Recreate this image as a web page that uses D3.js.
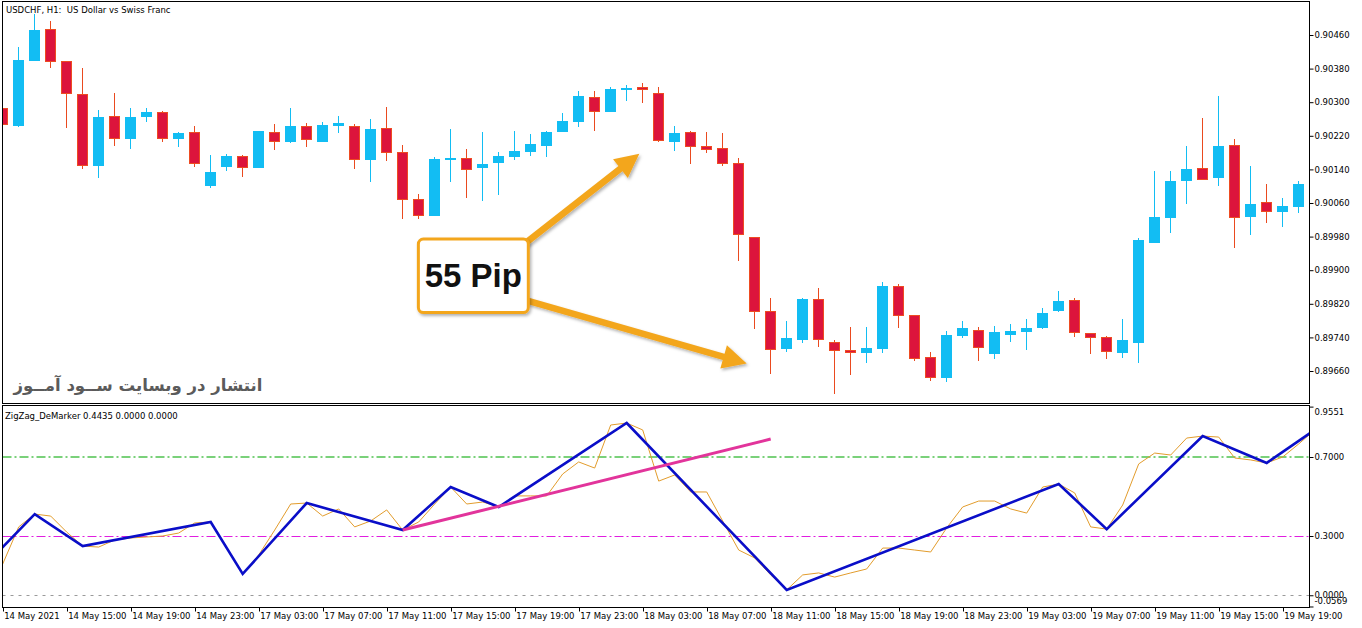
<!DOCTYPE html>
<html lang="en">
<head>
<meta charset="UTF-8">
<title>USDCHF H1 - ZigZag DeMarker</title>
<script src="https://d3js.org/d3.v7.min.js"></script>
<style>
  body { margin: 0; background: #fff; }
  svg text { font-family: "DejaVu Sans", Tahoma, sans-serif; font-size: 8.5px; fill: #000; }
</style>
</head>
<body>
<div id="chart"></div>
<script>

// hourly candles, 14 May 11:00 .. 19 May 20:00
const opens = [0.90285,0.90243,0.90399,0.90472,0.90396,0.90319,0.90149,0.90266,0.90213,0.90265,
  0.90276,0.90213,0.90227,0.90101,0.90146,0.90170,0.90144,0.90228,0.90205,0.90243,
  0.90205,0.90244,0.90243,0.90163,0.90237,0.90181,0.90069,0.90030,0.90162,0.90166,
  0.90143,0.90155,0.90170,0.90182,0.90196,0.90228,0.90254,0.90311,0.90277,0.90331,
  0.90335,0.90321,0.90206,0.90227,0.90194,0.90189,0.90155,0.89978,0.89801,0.89712,
  0.89735,0.89831,0.89728,0.89708,0.89703,0.89713,0.89862,0.89793,0.89693,0.89644,
  0.89743,0.89756,0.89700,0.89746,0.89754,0.89762,0.89804,0.89827,0.89750,0.89740,
  0.89703,0.89727,0.89964,0.90025,0.90113,0.90141,0.90120,0.90198,0.90026,0.90062,
  0.90039,0.90051];
const highs = [0.90293,0.90432,0.90510,0.90494,0.90396,0.90381,0.90281,0.90323,0.90287,0.90287,
  0.90279,0.90228,0.90243,0.90174,0.90177,0.90174,0.90231,0.90248,0.90287,0.90250,
  0.90254,0.90267,0.90248,0.90261,0.90289,0.90198,0.90081,0.90170,0.90236,0.90188,
  0.90230,0.90181,0.90232,0.90224,0.90232,0.90274,0.90327,0.90327,0.90337,0.90341,
  0.90346,0.90337,0.90244,0.90231,0.90230,0.90227,0.90166,0.89978,0.89835,0.89780,
  0.89835,0.89857,0.89735,0.89765,0.89765,0.89873,0.89867,0.89793,0.89706,0.89756,
  0.89779,0.89765,0.89767,0.89772,0.89784,0.89809,0.89851,0.89833,0.89750,0.89743,
  0.89784,0.89977,0.90137,0.90137,0.90196,0.90263,0.90315,0.90212,0.90148,0.90105,
  0.90073,0.90112];
const lows = [0.90243,0.90242,0.90398,0.90381,0.90239,0.90141,0.90120,0.90196,0.90189,0.90254,
  0.90205,0.90194,0.90146,0.90096,0.90136,0.90123,0.90144,0.90186,0.90204,0.90194,
  0.90205,0.90227,0.90141,0.90110,0.90160,0.90023,0.90023,0.90030,0.90111,0.90073,
  0.90065,0.90079,0.90162,0.90173,0.90170,0.90228,0.90242,0.90232,0.90277,0.90303,
  0.90299,0.90206,0.90185,0.90153,0.90178,0.90148,0.89922,0.89760,0.89652,0.89706,
  0.89726,0.89718,0.89605,0.89650,0.89680,0.89703,0.89763,0.89684,0.89636,0.89634,
  0.89739,0.89684,0.89689,0.89730,0.89710,0.89759,0.89800,0.89742,0.89700,0.89689,
  0.89692,0.89678,0.89964,0.89988,0.90058,0.90115,0.90100,0.89954,0.89984,0.90013,
  0.90004,0.90037];
const closes = [0.90247,0.90400,0.90472,0.90396,0.90320,0.90149,0.90265,0.90213,0.90265,0.90277,
  0.90213,0.90227,0.90154,0.90134,0.90172,0.90144,0.90231,0.90206,0.90243,0.90211,
  0.90246,0.90250,0.90163,0.90237,0.90180,0.90068,0.90030,0.90164,0.90168,0.90140,
  0.90152,0.90172,0.90184,0.90200,0.90229,0.90255,0.90315,0.90277,0.90331,0.90333,
  0.90331,0.90208,0.90226,0.90194,0.90188,0.90154,0.89985,0.89801,0.89712,0.89738,
  0.89831,0.89734,0.89708,0.89705,0.89714,0.89862,0.89792,0.89689,0.89644,0.89746,
  0.89763,0.89715,0.89753,0.89756,0.89762,0.89797,0.89827,0.89751,0.89740,0.89706,
  0.89734,0.89972,0.90027,0.90112,0.90141,0.90117,0.90196,0.90026,0.90058,0.90039,
  0.90053,0.90105];

// DeMarker value per bar (last one is the forming bar, off the right edge)
const demarker = [0.158,0.346,0.411,0.401,0.320,0.249,0.244,0.280,0.290,0.295,
  0.300,0.315,0.366,0.371,0.239,0.108,0.204,0.330,0.462,0.467,
  0.401,0.437,0.346,0.376,0.432,0.330,0.371,0.462,0.548,0.462,
  0.472,0.447,0.503,0.503,0.503,0.614,0.675,0.644,0.862,0.872,
  0.837,0.578,0.609,0.523,0.523,0.376,0.229,0.189,0.103,0.027,
  0.103,0.113,0.092,0.113,0.133,0.239,0.239,0.229,0.219,0.341,
  0.447,0.477,0.477,0.437,0.416,0.548,0.563,0.518,0.346,0.335,
  0.457,0.665,0.720,0.710,0.796,0.806,0.801,0.695,0.685,0.670,
  0.700,0.766,0.837];

// zigzag turning points on the DeMarker (bar index, value)
const zigIdx = [-1, 2, 5, 13, 15, 19, 25, 28, 31, 39, 49, 66, 69, 75, 79, 82];
const zigVal = [0.160, 0.411, 0.249, 0.371, 0.108, 0.467, 0.330, 0.548, 0.447, 0.872, 0.027, 0.563, 0.335, 0.806, 0.670, 0.837];

// hand drawn trend line on the indicator
const trendIdx = [25, 48];
const trendVal = [0.330, 0.791];

const levels = [0.7, 0.3, 0.0];
const levelColors = ["#4fc24f", "#e01ee0", "#9a9a9a"];

const priceTicks = [0.89660, 0.89740, 0.89820, 0.89900, 0.89980, 0.90060, 0.90140, 0.90220, 0.90300, 0.90380, 0.90460];
const indTicks = [0.9551, 0.7, 0.3, 0.0, -0.0569];
const timeLabels = ["14 May 2021", "14 May 15:00", "14 May 19:00", "14 May 23:00", "17 May 03:00",
  "17 May 07:00", "17 May 11:00", "17 May 15:00", "17 May 19:00", "17 May 23:00", "18 May 03:00",
  "18 May 07:00", "18 May 11:00", "18 May 15:00", "18 May 19:00", "18 May 23:00", "19 May 03:00",
  "19 May 07:00", "19 May 11:00", "19 May 15:00", "19 May 19:00"];

// annotation: box + two arrows, anchored on bar index / price
const pipLabel = "55 Pip";
const pipBox = { i0: 25.98, i1: 32.85, p0: 0.89974, p1: 0.89799 };
const pipArrows = [
  { i0: 32.45, p0: 0.89958, i1: 39.79, p1: 0.90177 },
  { i0: 32.46, p0: 0.89831, i1: 46.5, p1: 0.89678 }
];

const watermark = "انتشار در وبسایت ســود آمــوز";

// layout
const width = 1362, height = 628;
const left = 2.5, right = 1309.5;
const top1 = 1.5, bot1 = 403.5;
const top2 = 405.5, bot2 = 607.5;

const svg = d3.select("#chart").append("svg")
  .attr("width", width)
  .attr("height", height);

const defs = svg.append("defs");
defs.append("clipPath").attr("id", "clipTop").append("rect")
  .attr("x", left).attr("y", top1).attr("width", right - left).attr("height", bot1 - top1);
defs.append("clipPath").attr("id", "clipBot").append("rect")
  .attr("x", left).attr("y", top2).attr("width", right - left).attr("height", bot2 - top2);
defs.append("filter").attr("id", "shadow")
  .attr("x", "-20%").attr("y", "-20%").attr("width", "140%").attr("height", "140%")
  .append("feDropShadow")
  .attr("dx", 1.5).attr("dy", 2).attr("stdDeviation", 1.6)
  .attr("flood-color", "#000").attr("flood-opacity", 0.3);

// scales
const x = d3.scaleLinear().domain([0, 81]).range([2.7, 1298.7]);
const y = d3.scaleLinear().domain([0.89660, 0.90460]).range([371, 35]);
const yInd = d3.scaleLinear().domain([0.3, 0.7]).range([536, 457]);

// ---- price panel ----
const pricePanel = svg.append("g").attr("clip-path", "url(#clipTop)");

const bars = d3.range(opens.length).map(i => ({
  i: i, o: opens[i], h: highs[i], l: lows[i], c: closes[i], up: closes[i] >= opens[i]
}));

const candle = pricePanel.selectAll(".candle")
  .data(bars)
  .enter()
  .append("g")
  .attr("class", "candle")
  .attr("shape-rendering", "crispEdges");

candle.append("line")
  .attr("x1", d => Math.floor(x(d.i)) + 0.5)
  .attr("x2", d => Math.floor(x(d.i)) + 0.5)
  .attr("y1", d => y(d.h))
  .attr("y2", d => y(d.l))
  .attr("stroke", d => d.up ? "#12bdf3" : "#ea4a1f")
  .attr("stroke-width", 1);

candle.append("rect")
  .attr("x", d => d.up ? Math.floor(x(d.i)) - 5 : Math.floor(x(d.i)) - 4.5)
  .attr("width", d => d.up ? 11 : 10)
  .attr("y", d => y(Math.max(d.o, d.c)))
  .attr("height", d => Math.max(1.5, y(Math.min(d.o, d.c)) - y(Math.max(d.o, d.c))))
  .attr("fill", d => d.up ? "#12bdf3" : "#dc143c")
  .attr("stroke", d => d.up ? "none" : "#ee4b22")
  .attr("stroke-width", 1);

// watermark
const wm = svg.append("text")
  .attr("x", 138)
  .attr("y", 391)
  .attr("text-anchor", "middle")
  .attr("direction", "rtl")
  .style("font-family", "'DejaVu Sans', sans-serif")
  .style("font-weight", "bold")
  .style("font-size", "20px")
  .style("fill", "#5b5b5b")
  .text(watermark);
const wmLen = wm.node().getComputedTextLength();
if (wmLen > 0) wm.style("font-size", (20 * 249 / wmLen).toFixed(2) + "px");

// title
svg.append("text")
  .attr("x", 6)
  .attr("y", 13)
  .style("white-space", "pre")
  .text("USDCHF, H1:  US Dollar vs Swiss Franc");

// annotation arrows then box
const orange = "#f3a61f";
function arrowPoints(a) {
  const sx = x(a.i0), sy = y(a.p0), tx = x(a.i1), ty = y(a.p1);
  const len = Math.hypot(tx - sx, ty - sy);
  const ux = (tx - sx) / len, uy = (ty - sy) / len;
  const nx = -uy, ny = ux;
  const w = 3.3, hw = 12, hl = 24;
  const bx = tx - ux * hl, by = ty - uy * hl;
  return [
    [sx + nx * w, sy + ny * w], [bx + nx * w, by + ny * w], [bx + nx * hw, by + ny * hw],
    [tx, ty],
    [bx - nx * hw, by - ny * hw], [bx - nx * w, by - ny * w], [sx - nx * w, sy - ny * w]
  ].map(p => p.join(",")).join(" ");
}
svg.selectAll(".arrow")
  .data(pipArrows)
  .enter()
  .append("polygon")
  .attr("class", "arrow")
  .attr("points", arrowPoints)
  .attr("fill", orange)
  .attr("filter", "url(#shadow)");

svg.append("rect")
  .attr("x", x(pipBox.i0))
  .attr("y", y(pipBox.p0))
  .attr("width", x(pipBox.i1) - x(pipBox.i0))
  .attr("height", y(pipBox.p1) - y(pipBox.p0))
  .attr("rx", 5)
  .attr("fill", "#fff")
  .attr("stroke", orange)
  .attr("stroke-width", 3)
  .attr("filter", "url(#shadow)");

svg.append("text")
  .attr("x", (x(pipBox.i0) + x(pipBox.i1)) / 2)
  .attr("y", (y(pipBox.p0) + y(pipBox.p1)) / 2 + 11)
  .attr("text-anchor", "middle")
  .style("font-family", "'Liberation Sans', Arial, sans-serif")
  .style("font-weight", "bold")
  .style("font-size", "33px")
  .style("fill", "#111")
  .text(pipLabel);

// price axis
const priceAxis = svg.append("g")
  .attr("transform", "translate(" + right + ",0)")
  .call(d3.axisRight(y).tickValues(priceTicks).tickSize(4).tickPadding(1)
    .tickFormat(d => d.toFixed(5)));
priceAxis.select(".domain").remove();
priceAxis.selectAll("line").attr("stroke", "#000");
priceAxis.selectAll("text").style("font-size", "8.5px").attr("font-family", null);

// ---- indicator panel ----
const indPanel = svg.append("g").attr("clip-path", "url(#clipBot)");

levels.forEach((lv, i) => {
  // the green level is drawn a touch wider/softer, the others pixel-sharp
  const ly = i === 0 ? yInd(lv) : Math.round(yInd(lv)) + 0.5;
  indPanel.append("line")
    .attr("x1", left).attr("x2", right)
    .attr("y1", ly)
    .attr("y2", ly)
    .style("stroke", levelColors[i])
    .style("stroke-width", i === 0 ? 1.4 : 1)
    .style("stroke-dasharray", i < 2 ? "9,3,2,3" : "3,5");
});

indPanel.append("path")
  .datum(demarker)
  .attr("fill", "none")
  .attr("stroke", "#e29c2c")
  .attr("stroke-width", 1)
  .attr("d", d3.line().x((d, i) => x(i)).y(d => yInd(d)));

indPanel.append("path")
  .datum(zigIdx.map((d, i) => [d, zigVal[i]]))
  .attr("fill", "none")
  .attr("stroke", "#0a0ec8")
  .attr("stroke-width", 2.6)
  .attr("stroke-linejoin", "miter")
  .attr("d", d3.line().x(d => x(d[0])).y(d => yInd(d[1])));

indPanel.append("path")
  .datum(trendIdx.map((d, i) => [d, trendVal[i]]))
  .attr("fill", "none")
  .attr("stroke", "#e2349b")
  .attr("stroke-width", 3)
  .attr("d", d3.line().x(d => x(d[0])).y(d => yInd(d[1])));

svg.append("text")
  .attr("x", 5)
  .attr("y", 418.5)
  .text("ZigZag_DeMarker 0.4435 0.0000 0.0000");

const indAxis = svg.append("g")
  .attr("transform", "translate(" + right + ",0)")
  .call(d3.axisRight(yInd).tickValues(indTicks).tickSize(4).tickPadding(1)
    .tickFormat(d => d.toFixed(4)));
indAxis.select(".domain").remove();
indAxis.selectAll("line").attr("stroke", "#000");
indAxis.selectAll("text")
  .style("font-size", "8.5px")
  .attr("font-family", null)
  .attr("y", d => {
    const p = yInd(d);
    const c = Math.max(top2 + 6, Math.min(bot2 - 6.5, p));
    return c - p;
  });

// time axis
const timeAxis = svg.append("g")
  .attr("transform", "translate(0," + bot2 + ")")
  .call(d3.axisBottom(x).tickValues(d3.range(0, 81, 4)).tickSize(4).tickPadding(1)
    .tickFormat((d, i) => timeLabels[i]));
timeAxis.select(".domain").remove();
timeAxis.selectAll("line").attr("stroke", "#000")
  .attr("transform", "translate(0.3,0)");
timeAxis.selectAll("text")
  .style("font-size", "8.5px")
  .attr("font-family", null)
  .attr("text-anchor", "start")
  .attr("x", 1);

// panel frames
svg.append("rect")
  .attr("x", left).attr("y", top1).attr("width", right - left).attr("height", bot1 - top1)
  .attr("fill", "none").attr("stroke", "#000");
svg.append("rect")
  .attr("x", left).attr("y", top2).attr("width", right - left).attr("height", bot2 - top2)
  .attr("fill", "none").attr("stroke", "#000");

</script>
</body>
</html>
